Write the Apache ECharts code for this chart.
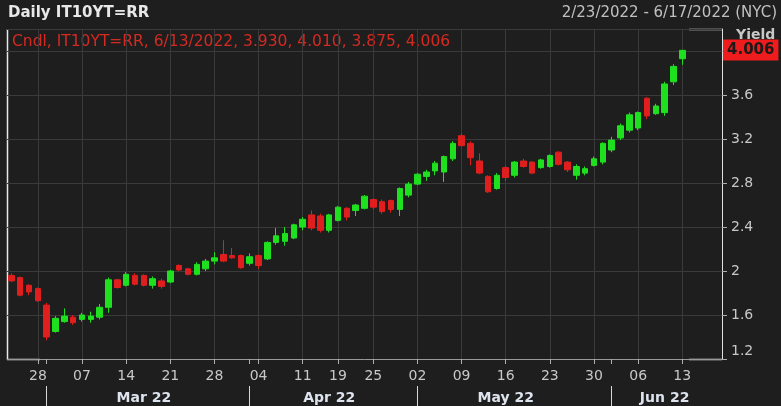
<!DOCTYPE html>
<html>
<head>
<meta charset="utf-8">
<script src="https://cdn.jsdelivr.net/npm/echarts@6/dist/echarts.min.js"></script>
<style>
html,body{margin:0;padding:0;background:#1e1e1e;}
#c{width:781px;height:406px;}
</style>
</head>
<body>
<div id="c"></div>
<script>
// Trading days (Jun 14-17 are empty slots at the right of the chart)
const dates = [
'2022-02-23','2022-02-24','2022-02-25','2022-02-28',
'2022-03-01','2022-03-02','2022-03-03','2022-03-04','2022-03-07','2022-03-08','2022-03-09','2022-03-10','2022-03-11',
'2022-03-14','2022-03-15','2022-03-16','2022-03-17','2022-03-18','2022-03-21','2022-03-22','2022-03-23','2022-03-24','2022-03-25',
'2022-03-28','2022-03-29','2022-03-30','2022-03-31',
'2022-04-01','2022-04-04','2022-04-05','2022-04-06','2022-04-07','2022-04-08','2022-04-11','2022-04-12','2022-04-13','2022-04-14',
'2022-04-19','2022-04-20','2022-04-21','2022-04-22','2022-04-25','2022-04-26','2022-04-27','2022-04-28','2022-04-29',
'2022-05-02','2022-05-03','2022-05-04','2022-05-05','2022-05-06','2022-05-09','2022-05-10','2022-05-11','2022-05-12','2022-05-13',
'2022-05-16','2022-05-17','2022-05-18','2022-05-19','2022-05-20','2022-05-23','2022-05-24','2022-05-25','2022-05-26','2022-05-27',
'2022-05-30','2022-05-31',
'2022-06-01','2022-06-02','2022-06-03','2022-06-06','2022-06-07','2022-06-08','2022-06-09','2022-06-10','2022-06-13',
'2022-06-14','2022-06-15','2022-06-16','2022-06-17'
];
const open = [
1.96,1.94,1.87,1.84,
1.69,1.45,1.54,1.58,1.56,1.56,1.58,1.67,1.92,
1.87,1.96,1.96,1.87,1.91,1.90,2.05,2.02,1.97,2.02,
2.09,2.15,2.14,2.14,
2.07,2.14,2.11,2.26,2.27,2.30,2.40,2.51,2.50,2.37,
2.46,2.57,2.55,2.57,2.65,2.63,2.64,2.56,2.69,
2.79,2.86,2.91,2.90,3.02,3.23,3.16,3.00,2.86,2.75,
2.94,2.87,3.00,2.99,2.94,2.95,3.08,2.99,2.87,2.89,
2.96,2.99,
3.10,3.21,3.28,3.30,3.57,3.43,3.44,3.72,3.930
];
const close = [
1.91,1.78,1.81,1.73,
1.40,1.57,1.59,1.53,1.60,1.59,1.67,1.92,1.85,
1.97,1.88,1.87,1.93,1.86,2.00,2.01,1.97,2.06,2.09,
2.12,2.09,2.12,2.03,
2.13,2.05,2.26,2.32,2.34,2.42,2.47,2.39,2.37,2.51,
2.58,2.49,2.60,2.68,2.58,2.54,2.56,2.75,2.79,
2.88,2.90,2.98,3.04,3.16,3.14,3.03,2.89,2.72,2.87,
2.85,2.99,2.95,2.89,3.01,3.05,2.97,2.92,2.95,2.93,
3.02,3.16,
3.19,3.32,3.42,3.44,3.41,3.50,3.70,3.86,4.006
];
const low = [
1.90,1.77,1.78,1.72,
1.37,1.44,1.53,1.51,1.54,1.53,1.56,1.62,1.84,
1.86,1.87,1.86,1.84,1.84,1.89,2.00,1.96,1.96,2.00,
2.06,2.08,2.11,2.02,
2.05,2.02,2.10,2.24,2.23,2.29,2.37,2.37,2.35,2.35,
2.45,2.46,2.50,2.56,2.56,2.52,2.53,2.50,2.67,
2.78,2.82,2.87,2.81,3.00,3.13,2.96,2.88,2.71,2.74,
2.82,2.85,2.94,2.88,2.93,2.94,2.96,2.90,2.83,2.87,
2.95,2.97,
3.08,3.19,3.26,3.28,3.38,3.42,3.41,3.69,3.875
];
const high = [
1.98,1.95,1.88,1.85,
1.71,1.59,1.66,1.60,1.62,1.63,1.70,1.94,1.93,
1.99,1.98,1.97,1.95,1.93,2.01,2.06,2.03,2.08,2.11,
2.17,2.28,2.21,2.15,
2.16,2.15,2.27,2.39,2.40,2.43,2.49,2.55,2.52,2.52,
2.59,2.58,2.61,2.69,2.66,2.65,2.65,2.76,2.81,
2.89,2.92,3.00,3.05,3.18,3.25,3.18,3.07,2.87,2.89,
2.96,3.00,3.02,3.00,3.02,3.06,3.09,3.00,2.97,2.95,
3.04,3.17,
3.22,3.34,3.44,3.45,3.58,3.52,3.72,3.88,4.010
];
const yTicks = [1.2, 1.6, 2.0, 2.4, 2.8, 3.2, 3.6, 4.0];
const monthNames = ['Jan','Feb','Mar','Apr','May','Jun','Jul','Aug','Sep','Oct','Nov','Dec'];
const titleText = 'Daily IT10YT=RR';
const rangeText = '2/23/2022 - 6/17/2022 (NYC)';
const lastIdx = open.length - 1;
const legendText = 'Cndl, IT10YT=RR, 6/13/2022, ' + open[lastIdx].toFixed(3) + ', ' + high[lastIdx].toFixed(3) + ', ' + low[lastIdx].toFixed(3) + ', ' + close[lastIdx].toFixed(3);

const GREEN = '#1fe01f', RED = '#e01e1e';
const FONT = 'DejaVu Sans';

const dow = dates.map(d => new Date(d + 'T00:00:00Z').getUTCDay());
const mon = dates.map(d => +d.slice(5,7) - 1);
const weekStart = dates.map((d,i) => i > 0 && dow[i] < dow[i-1]);
const monthStart = dates.map((d,i) => i > 0 && mon[i] !== mon[i-1]);
const monthMid = dates.map(() => false);
const monthLabel = {};
(function(){
  let s = 0;
  for (let i = 1; i <= dates.length; i++) {
    if (i === dates.length || mon[i] !== mon[i-1]) {
      const n = i - s;
      if (n >= 8) {
        const m = s + Math.floor((n - 1) / 2);
        monthMid[m] = true;
        monthLabel[m] = monthNames[mon[s]] + ' ' + dates[s].slice(2,4);
      }
      s = i;
    }
  }
})();

const candleData = dates.map((d,i) => i < open.length ? [open[i], close[i], low[i], high[i]] : '-');

const chart = echarts.init(document.getElementById('c'));
const L = 7, R = 722, T = 29, B = 359;
chart.setOption({
  backgroundColor: '#1e1e1e',
  animation: false,
  grid: { left: L, right: 781 - R, top: T, bottom: 406 - B },
  xAxis: [{
    type: 'category', data: dates, boundaryGap: true,
    axisLine: { show: true, lineStyle: { color: '#9a9a9a', width: 1 } },
    axisTick: { show: true, alignWithLabel: true, length: 5, interval: (i) => weekStart[i] || monthStart[i], lineStyle: { color: '#b0b0b0' } },
    axisLabel: { interval: (i) => weekStart[i], formatter: v => v.slice(8,10), color: '#c8c8c8', fontFamily: FONT, fontSize: 14, margin: 10 },
    splitLine: { show: true, alignWithLabel: true, interval: (i) => weekStart[i], lineStyle: { color: '#3a3a3a', width: 1 } }
  }, {
    type: 'category', data: dates, boundaryGap: true, position: 'bottom', offset: 27,
    axisLine: { show: false },
    axisTick: { show: true, alignWithLabel: true, length: 21, interval: (i) => monthStart[i], lineStyle: { color: '#d8d8d8' } },
    axisLabel: { interval: (i) => monthMid[i], formatter: (v, i) => monthLabel[i] || '', color: '#dde4ee', fontFamily: FONT, fontWeight: 'bold', fontSize: 14, margin: 5 },
    splitLine: { show: false }
  }],
  yAxis: {
    type: 'value', position: 'right', min: yTicks[0], max: 4.2, interval: 0.4,
    axisLine: { show: true, lineStyle: { color: '#e0e0e0', width: 1 } },
    axisTick: { show: true, length: 5, lineStyle: { color: '#b0b0b0' } },
    splitLine: { show: true, lineStyle: { color: '#3a3a3a', width: 1 } },
    axisLabel: {
      color: '#c8c8c8', fontFamily: FONT, fontSize: 14, margin: 9,
      showMaxLabel: false,
      formatter: v => {
        const r = Math.round(v * 10) / 10;
        if (!yTicks.some(t => Math.abs(t - r) < 1e-6) || r >= 3.95) return '';
        if (Math.abs(r - yTicks[0]) < 1e-6) return '{lo|' + r + '}';
        return String(r);
      },
      rich: { lo: { color: '#c8c8c8', fontFamily: FONT, fontSize: 14, padding: [0, 0, 15, 0] } }
    }
  },
  series: [{
    type: 'candlestick', data: candleData, barWidth: 6,
    itemStyle: { color: GREEN, color0: RED, borderColor: GREEN, borderColor0: RED, borderWidth: 1 },
    markLine: {
      silent: true, symbol: ['none','none'], animation: false,
      lineStyle: { color: 'rgba(0,0,0,0)', width: 1, type: 'solid' },
      label: { show: true, position: 'end', distance: 1, formatter: close[lastIdx].toFixed(3),
        backgroundColor: '#ee1c1c', color: '#1a1a1a', fontFamily: FONT, fontWeight: 'bold', fontSize: 15, padding: [4, 4, 2, 4] },
      emphasis: { disabled: true },
      data: [{ yAxis: close[lastIdx] }]
    }
  }],
  graphic: [
    { type: 'text', left: 8, top: 6, style: { text: titleText, fill: '#e8e8e8', font: 'bold 15px "DejaVu Sans"' } },
    { type: 'text', right: 4, top: 6, style: { text: rangeText, fill: '#c0c0c0', font: '15px "DejaVu Sans"' } },
    { type: 'text', left: 12, top: 34, style: { text: legendText, fill: '#d42a22', font: '15.5px "DejaVu Sans"' } },
    { type: 'text', left: 736, top: 28, z: -1, style: { text: 'Yield', fill: '#c8c8c8', font: 'bold 14px "DejaVu Sans"' } },
    { type: 'line', shape: { x1: L + 0.5, y1: T, x2: L + 0.5, y2: B }, style: { stroke: '#e8e8e8', lineWidth: 1.5 } },
    { type: 'line', shape: { x1: L, y1: B + 0.5, x2: L + 33, y2: B + 0.5 }, style: { stroke: '#e8e8e8', lineWidth: 1.5 } },
    { type: 'line', shape: { x1: L, y1: T + 0.5, x2: L + 33, y2: T + 0.5 }, style: { stroke: '#bdbdbd', lineWidth: 1 } },
    { type: 'line', shape: { x1: R - 33, y1: T + 0.5, x2: R, y2: T + 0.5 }, style: { stroke: '#e8e8e8', lineWidth: 1.5 } },
    { type: 'line', shape: { x1: R - 33, y1: B + 0.5, x2: R, y2: B + 0.5 }, style: { stroke: '#e8e8e8', lineWidth: 1.5 } }
  ]
});
</script>
</body>
</html>
